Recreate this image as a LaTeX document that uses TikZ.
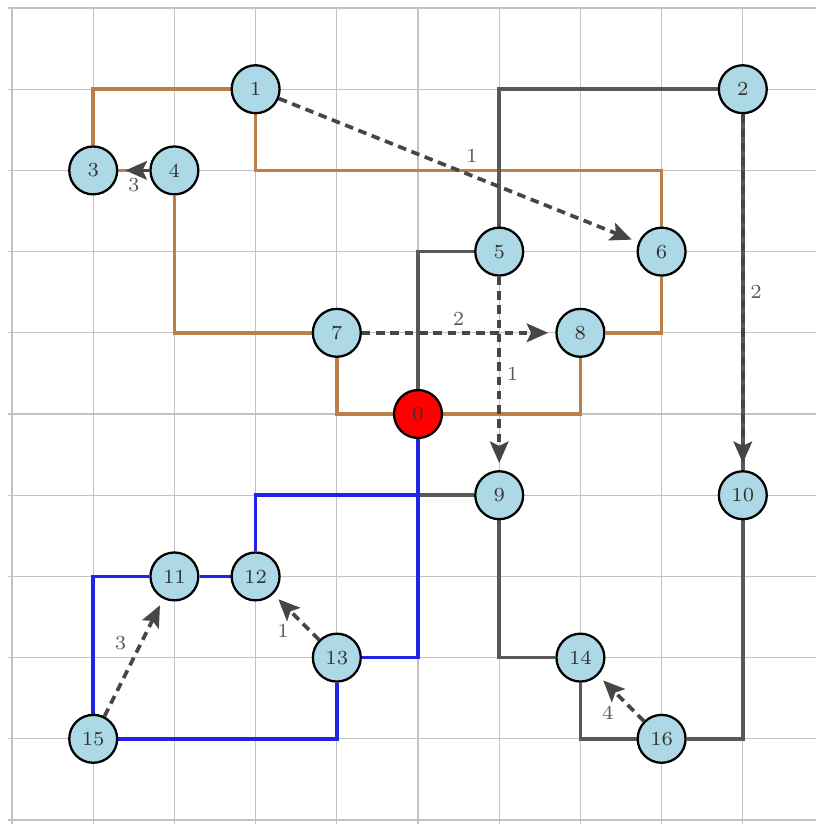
\documentclass[tikz,border=0pt]{standalone}
\usetikzlibrary{arrows.meta,backgrounds}

\definecolor{treebrown}{RGB}{186,128,72}
\definecolor{treeblue}{RGB}{35,35,228}
\definecolor{treegray}{RGB}{88,88,88}
\definecolor{arcgray}{RGB}{70,70,70}
\definecolor{gridgray}{RGB}{195,195,195}
\definecolor{vertexfill}{RGB}{173,216,230}

\begin{document}
\begin{tikzpicture}[
  x=1cm, y=1cm,
  vertex/.style={circle, draw=black, line width=0.8pt, fill=vertexfill,
    minimum size=0.59cm, inner sep=0pt, font=\fontsize{7}{8}\selectfont, text=black!80},
  rootvertex/.style={vertex, fill=red},
  treeedge/.style={line width=1.3pt},
  arc/.style={arcgray, line width=1.3pt, dash pattern=on 3pt off 2pt,
    shorten >=2.5pt, -{Stealth[length=7.5pt,width=6.5pt,inset=1.5pt]}},
  weight/.style={auto, font=\fontsize{7}{8}\selectfont, text=black!65, inner sep=2pt},
]
\useasboundingbox (-0.1478,0.0985) rectangle (9.901,-10.049);

% vertices on the unit grid (column, -row)
\node[rootvertex] (n0) at (5,-5) {0};
\node[vertex] (n1) at (3,-1) {1};
\node[vertex] (n2) at (9,-1) {2};
\node[vertex] (n3) at (1,-2) {3};
\node[vertex] (n4) at (2,-2) {4};
\node[vertex] (n5) at (6,-3) {5};
\node[vertex] (n6) at (8,-3) {6};
\node[vertex] (n7) at (4,-4) {7};
\node[vertex] (n8) at (7,-4) {8};
\node[vertex] (n9) at (6,-6) {9};
\node[vertex] (n10) at (9,-6) {10};
\node[vertex] (n11) at (2,-7) {11};
\node[vertex] (n12) at (3,-7) {12};
\node[vertex] (n13) at (4,-8) {13};
\node[vertex] (n14) at (7,-8) {14};
\node[vertex] (n15) at (1,-9) {15};
\node[vertex] (n16) at (8,-9) {16};

\begin{scope}[on background layer]
  % grid
  \foreach \c in {0,...,9}
    \draw[gridgray, line width=0.4pt] (\c,0) -- (\c,-10.049);
  \foreach \r in {0,...,10}
    \draw[gridgray, line width=0.4pt] (-0.05,-\r) -- (9.901,-\r);

  % brown tree
  \begin{scope}[treeedge, treebrown]
    \draw (n1) -| (n3);
    \draw (n1) |- (5,-2) -| (n6);
    \draw (n3) -- (n4);
    \draw (n4) |- (n7);
    \draw (n7) |- (n0);
    \draw (n0) -| (n8);
    \draw (n8) -| (n6);
  \end{scope}

  % gray tree
  \begin{scope}[treeedge, treegray]
    \draw (n2) -| (n5);
    \draw (n5) -| (n0);
    \draw (n2) -- (n10);
    \draw (n10) |- (n16);
    \draw (n16) -| (n14);
    \draw (n14) -| (n9);
    \draw (n9) -| (n0);
  \end{scope}

  % blue tree
  \begin{scope}[treeedge, treeblue]
    \draw (n0) -- (5,-6) -| (n12);
    \draw (n0) |- (n13);
    \draw (n12) -- (n11);
    \draw (n11) -| (n15);
    \draw (n15) -| (n13);
  \end{scope}

  % weighted dashed arcs
  \draw[arc] (n1) -- node[weight] {1} (n6);
  \draw[arc] (n7) -- node[weight] {2} (n8);
  \draw[arc] (n5) -- node[weight] {1} (n9);
  \draw[arc] (n2) -- node[weight] {2} (n10);
  \draw[arc] (n4) -- node[weight] {3} (n3);
  \draw[arc] (n13) -- node[weight] {1} (n12);
  \draw[arc] (n15) -- node[weight] {3} (n11);
  \draw[arc] (n16) -- node[weight] {4} (n14);
\end{scope}
\end{tikzpicture}
\end{document}
